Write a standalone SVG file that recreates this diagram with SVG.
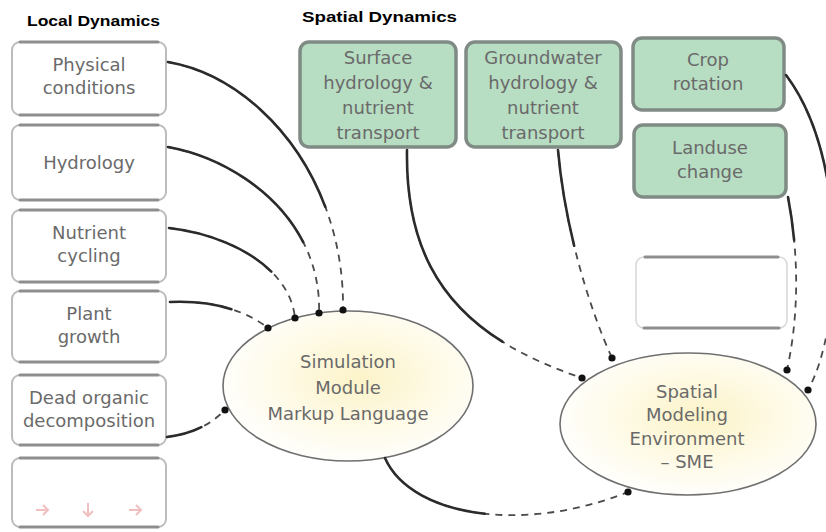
<svg xmlns="http://www.w3.org/2000/svg" width="826" height="532" viewBox="0 0 826 532">
  <style>
    .lbox { fill: #ffffff; stroke: #bcbcbc; stroke-width: 2; }
    .ledge { fill: none; stroke: #8e8e8e; stroke-width: 3; stroke-linecap: round; }
    .gbox { fill: #b7ddc2; stroke: #7f8b84; stroke-width: 3.5; }
    .lbl { font-family: "DejaVu Sans", "Liberation Sans", sans-serif; font-size: 18px; fill: #6a6a6a; text-anchor: middle; }
    .title { font-family: "Liberation Sans", Arial, sans-serif; font-weight: bold; font-size: 15px; fill: #000; }
    .oval { fill: url(#warm); stroke: #6f6f6f; stroke-width: 1.6; }
    .solid { fill: none; stroke: #2b2b2b; stroke-width: 2.6; stroke-linecap: round; }
    .dash { fill: none; stroke: #4a4a4a; stroke-width: 1.8; stroke-dasharray: 7 6; marker-end: url(#dot); }
    .mark { fill: none; stroke: #e58a8a; stroke-width: 2; opacity: 0.55; }
  </style>
  <defs>
    <marker id="dot" viewBox="0 0 10 10" refX="5" refY="5" markerWidth="8" markerHeight="8" markerUnits="userSpaceOnUse">
      <circle cx="5" cy="5" r="4.5" fill="#111"/>
    </marker>
    <radialGradient id="warm" cx="0.55" cy="0.45" r="0.6">
      <stop offset="0" stop-color="#fcf3c8"/>
      <stop offset="0.6" stop-color="#fefbea"/>
      <stop offset="1" stop-color="#ffffff"/>
    </radialGradient>
  </defs>

  <rect width="826" height="532" fill="#ffffff"/>

  <!-- section titles -->
  <text class="title" x="27" y="26" textLength="133" lengthAdjust="spacingAndGlyphs">Local Dynamics</text>
  <text class="title" x="302" y="22" textLength="155" lengthAdjust="spacingAndGlyphs">Spatial Dynamics</text>

  <!-- local process modules -->
  <g id="physical-conditions">
    <rect class="lbox" x="12" y="42" width="154" height="73" rx="8"/>
    <path class="ledge" d="M20,42 H158 M20,115 H158"/>
    <text class="lbl" x="89" y="71">Physical</text>
    <text class="lbl" x="89" y="94">conditions</text>
  </g>
  <g id="hydrology">
    <rect class="lbox" x="12" y="125" width="154" height="75" rx="8"/>
    <path class="ledge" d="M20,125 H158 M20,200 H158"/>
    <text class="lbl" x="89" y="169">Hydrology</text>
  </g>
  <g id="nutrient-cycling">
    <rect class="lbox" x="12" y="210" width="154" height="72" rx="8"/>
    <path class="ledge" d="M20,210 H158 M20,282 H158"/>
    <text class="lbl" x="89" y="239">Nutrient</text>
    <text class="lbl" x="89" y="262">cycling</text>
  </g>
  <g id="plant-growth">
    <rect class="lbox" x="12" y="291" width="154" height="71" rx="8"/>
    <path class="ledge" d="M20,291 H158 M20,362 H158"/>
    <text class="lbl" x="89" y="320">Plant</text>
    <text class="lbl" x="89" y="343">growth</text>
  </g>
  <g id="dead-organic-decomposition">
    <rect class="lbox" x="12" y="375" width="154" height="70" rx="8"/>
    <path class="ledge" d="M20,375 H158 M20,445 H158"/>
    <text class="lbl" x="89" y="404">Dead organic</text>
    <text class="lbl" x="89" y="427">decomposition</text>
  </g>
  <g id="local-extra">
    <rect class="lbox" x="12" y="458" width="154" height="69" rx="8"/>
    <path class="ledge" d="M20,458 H158 M20,527 H158"/>
    <path class="mark" d="M36,510 h12 m-5,-5 l5,5 l-5,5"/>
    <path class="mark" d="M88,503 v13 m-5,-5 l5,5 l5,-5"/>
    <path class="mark" d="M129,510 h12 m-5,-5 l5,5 l-5,5"/>
  </g>

  <!-- spatial process modules -->
  <g id="surface-hydrology">
    <rect class="gbox" x="300" y="42" width="156" height="105" rx="9"/>
    <text class="lbl" x="378" y="64">Surface</text>
    <text class="lbl" x="378" y="89">hydrology &amp;</text>
    <text class="lbl" x="378" y="114">nutrient</text>
    <text class="lbl" x="378" y="139">transport</text>
  </g>
  <g id="groundwater-hydrology">
    <rect class="gbox" x="466" y="42" width="155" height="105" rx="9"/>
    <text class="lbl" x="543" y="64">Groundwater</text>
    <text class="lbl" x="543" y="89">hydrology &amp;</text>
    <text class="lbl" x="543" y="114">nutrient</text>
    <text class="lbl" x="543" y="139">transport</text>
  </g>
  <g id="crop-rotation">
    <rect class="gbox" x="633" y="38" width="151" height="72" rx="9"/>
    <text class="lbl" x="708" y="66">Crop</text>
    <text class="lbl" x="708" y="90">rotation</text>
  </g>
  <g id="landuse-change">
    <rect class="gbox" x="634" y="125" width="152" height="72" rx="9"/>
    <text class="lbl" x="710" y="154">Landuse</text>
    <text class="lbl" x="710" y="178">change</text>
  </g>
  <g id="spatial-extra">
    <rect x="636" y="257" width="151" height="71" rx="8" fill="#ffffff" stroke="#d6d6d6" stroke-width="1.5"/>
    <path class="ledge" d="M645,257 H778 M644,328 H779" stroke="#9a9a9a"/>
  </g>

  <!-- modelling environments -->
  <g id="smml">
    <ellipse class="oval" cx="348" cy="386" rx="125" ry="75"/>
    <text class="lbl" x="348" y="368">Simulation</text>
    <text class="lbl" x="348" y="394">Module</text>
    <text class="lbl" x="348" y="420">Markup Language</text>
  </g>
  <g id="sme">
    <ellipse class="oval" cx="688" cy="424" rx="128" ry="71"/>
    <text class="lbl" x="687" y="398">Spatial</text>
    <text class="lbl" x="687" y="421">Modeling</text>
    <text class="lbl" x="687" y="445">Environment</text>
    <text class="lbl" x="687" y="468">– SME</text>
  </g>

  <!-- connectors: solid stroke that breaks into dashes toward the target -->
  <g id="connectors">
    <path class="dash" d="M168,62 C260,78 345,180 343,310"/>
    <path class="solid" pathLength="100" stroke-dasharray="68 100" d="M168,62 C260,78 345,180 343,310"/>

    <path class="dash" d="M168,147 C240,160 322,220 319,313"/>
    <path class="solid" pathLength="100" stroke-dasharray="70 100" d="M168,147 C240,160 322,220 319,313"/>

    <path class="dash" d="M169,228 C230,235 290,268 295,318"/>
    <path class="solid" pathLength="100" stroke-dasharray="68 100" d="M169,228 C230,235 290,268 295,318"/>

    <path class="dash" d="M170,302 C215,300 248,312 268,328"/>
    <path class="solid" pathLength="100" stroke-dasharray="60 100" d="M170,302 C215,300 248,312 268,328"/>

    <path class="dash" d="M167,437 C192,434 210,425 225,410"/>
    <path class="solid" pathLength="100" stroke-dasharray="55 100" d="M167,437 C192,434 210,425 225,410"/>

    <path class="dash" d="M407,150 C405,280 470,340 582,378"/>
    <path class="solid" pathLength="100" stroke-dasharray="72 100" d="M407,150 C405,280 470,340 582,378"/>

    <path class="dash" d="M558,150 C565,230 590,310 612,358"/>
    <path class="solid" pathLength="100" stroke-dasharray="45 100" d="M558,150 C565,230 590,310 612,358"/>

    <path class="dash" d="M786,75 C850,160 842,330 808,390"/>
    <path class="solid" pathLength="100" stroke-dasharray="70 100" d="M786,75 C850,160 842,330 808,390"/>

    <path class="dash" d="M788,197 C800,260 798,320 787,370"/>
    <path class="solid" pathLength="100" stroke-dasharray="25 100" d="M788,197 C800,260 798,320 787,370"/>

    <path class="dash" d="M385,458 C410,515 520,535 628,492"/>
    <path class="solid" pathLength="100" stroke-dasharray="45 100" d="M385,458 C410,515 520,535 628,492"/>
  </g>
</svg>
